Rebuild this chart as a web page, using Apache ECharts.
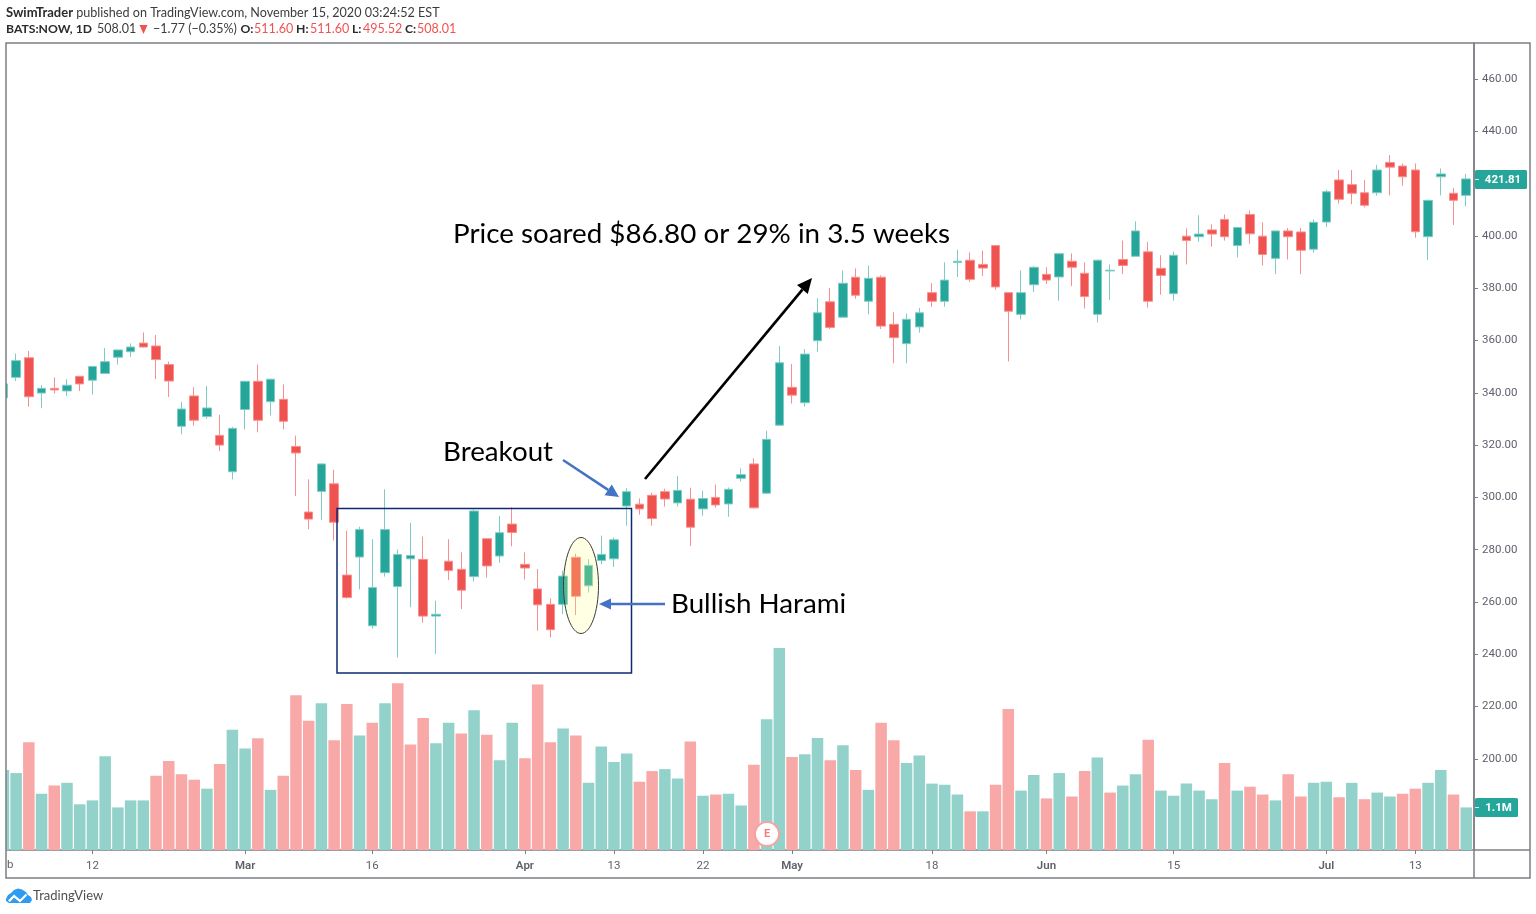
<!DOCTYPE html>
<html><head><meta charset="utf-8">
<style>html,body{margin:0;padding:0;background:#fff}#c{width:1536px;height:914px}</style>
<script src="https://cdn.jsdelivr.net/npm/echarts@6/dist/echarts.min.js"></script>
</head><body><div id="c"></div>
<script>
// [open, close, low, high]
const ohlc = [
[338.1,343.4,336,345],[345.9,352.3,344.5,355.0],[353.4,338.5,334.7,356.0],[339.9,341.7,334.1,342.9],[341.7,341.1,339.7,345.9],
[340.7,342.9,338.8,345.2],[346.3,343.4,340.7,346.3],[344.8,350.1,339.3,350.1],[347.4,351.9,347.4,357.1],[353.6,356.4,350.8,356.4],
[355.7,357.5,353.8,358.9],[359.0,357.5,357.3,363.1],[357.9,352.7,345.2,362.1],[350.8,344.5,338.4,351.9],[327.2,333.8,324.1,336.5],
[338.8,329.5,327.4,342.1],[330.9,334.2,330.1,342.6],[323.7,320.0,317.7,331.6],[309.8,326.4,306.9,327.0],[333.6,344.4,326.0,344.6],
[344.4,329.5,324.9,350.8],[336.6,345.2,331.3,345.4],[337.5,329.1,326.0,343.2],[319.5,317.0,300.5,323.6],[294.4,291.7,287.8,306.9],
[302.3,312.8,291.4,313.0],[305.2,290.5,283.5,310.6],[270.3,261.7,261.3,287.3],[277.2,287.7,264.8,288.8],[250.9,265.5,249.8,284.0],
[271.2,287.7,269.7,303.1],[265.9,278.2,238.8,280.1],[276.5,277.8,258.0,290.3],[276.3,254.6,252.1,285.0],[254.6,255.3,240.1,260.5],
[275.6,272.0,268.4,284.0],[272.5,264.5,257.3,279.0],[269.7,294.8,267.9,295.4],[284.2,273.8,269.3,284.2],[277.6,286.5,275.0,292.9],
[289.8,286.6,281.3,296.2],[274.4,273.0,268.6,279.0],[265.0,258.9,249.0,272.6],[259.1,249.4,246.4,261.4],[259.1,269.9,255.4,272.0],
[277.1,262.2,255.0,278.4],[266.2,274.0,263.6,276.4],[275.9,278.2,274.5,285.4],[276.5,283.8,273.4,284.6],[296.7,302.2,289.2,303.5],
[297.4,295.6,293.4,299.6],[300.8,291.9,289.2,301.8],[302.2,299.4,296.5,303.3],[297.9,302.7,296.5,308.2],[299.3,288.6,281.4,303.7],
[295.6,299.6,293.0,302.6],[300.0,297.1,296.1,304.9],[297.5,303.1,292.6,303.8],[307.3,308.7,306.1,311.1],[312.8,296.0,295.7,314.9],
[301.6,322.2,301.2,325.5],[327.6,351.5,327.3,357.9],[342.1,339.1,335.9,351.0],[336.2,354.8,334.7,356.7],[359.9,370.6,355.7,376.2],
[374.8,365.0,364.4,380.1],[368.9,381.9,368.7,386.8],[384.2,377.3,376.0,387.6],[375.0,383.8,370.0,388.7],[384.2,365.5,364.4,384.9],
[366.2,361.1,351.3,370.8],[358.8,368.1,351.3,370.3],[365.2,370.6,363.0,372.5],[378.3,375.0,372.9,381.9],[375.0,383.1,372.9,389.9],
[389.8,390.3,384.3,394.7],[390.7,383.4,382.4,393.7],[389.1,387.7,384.7,394.4],[396.3,380.5,379.4,396.3],[378.3,371.2,352.0,378.3],
[370.0,378.3,368.1,386.8],[381.3,388.0,378.5,388.5],[385.3,383.1,381.6,388.0],[384.3,393.2,375.2,393.2],[390.3,388.0,380.8,393.3],
[385.7,376.8,372.2,389.9],[370.0,390.7,366.9,391.0],[386.6,386.9,375.5,389.1],[391.0,388.7,385.4,398.2],[392.2,401.9,392.2,405.6],
[393.9,375.0,372.6,397.7],[387.6,384.9,377.5,392.6],[377.9,392.6,375.2,394.0],[399.9,398.2,389.1,402.9],[399.7,400.7,397.8,407.9],
[402.3,400.7,395.9,404.4],[406.3,399.7,398.2,408.2],[396.3,403.2,391.8,403.4],[408.2,400.8,397.0,409.8],[399.9,392.9,388.7,405.2],
[391.4,401.9,385.4,401.9],[401.9,399.7,391.0,403.0],[401.5,394.5,385.4,403.0],[394.9,405.2,393.6,406.3],[405.3,416.9,403.4,417.7],
[421.4,414.0,412.4,425.2],[419.6,416.3,412.1,425.2],[416.5,411.7,410.9,421.4],[416.5,425.2,415.4,427.1],[428.1,426.3,415.5,430.9],
[426.7,422.6,419.2,427.7],[425.2,401.6,399.3,427.7],[399.7,413.6,390.8,413.9],[422.6,423.7,415.5,425.8],[416.3,413.6,404.2,418.4],
[415.5,421.8,411.3,423.7]];
// volume in millions of shares
const volumes = [2.05,1.97,2.76,1.44,1.65,1.72,1.17,1.27,2.40,1.09,1.27,1.27,1.90,2.28,1.94,1.80,1.57,2.20,3.08,2.60,
2.86,1.54,1.90,3.96,3.31,3.76,2.81,3.74,2.93,3.26,3.76,4.27,2.70,3.38,2.73,3.26,2.98,3.58,2.95,2.30,
3.26,2.35,4.24,2.76,3.11,2.93,1.72,2.65,2.25,2.47,1.75,2.02,2.07,1.83,2.78,1.39,1.42,1.44,1.14,2.18,
3.35,5.17,2.38,2.45,2.87,2.30,2.68,2.05,1.54,3.26,2.81,2.23,2.42,1.70,1.67,1.42,0.99,0.99,1.67,3.61,
1.52,1.92,1.32,1.97,1.37,2.02,2.37,1.47,1.65,1.94,2.82,1.52,1.39,1.70,1.52,1.30,2.23,1.52,1.62,1.42,
1.27,1.94,1.37,1.72,1.75,1.35,1.72,1.30,1.47,1.37,1.44,1.57,1.72,2.05,1.42,1.09];
const volumeUp = 'GGRGRGGGGGGGRRRRGRGGRGRRRGRRGRGRRRGGRGRGGRRRGRGGGGRRGGRGRGGRGGRGGRGRGRRGGGGGRGRRGGRGRRGRGGRGGGGGRGRRGRRGGRGRGGRRGGRG';
const priceTicks = [180,200,220,240,260,280,300,320,340,360,380,400,420,440,460];
const timeTickIdx = [7,19,29,41,48,55,62,73,82,92,104,111];
const timeTickLabels = ['12','Mar','16','Apr','13','22','May','18','Jun','15','Jul','13'];
const monthLabels = ['Mar','Apr','May','Jun','Jul'];
const lastPrice = 421.81;
const lastVolumeLabel = '1.1M';
const headerLine1 = '{b|SwimTrader} published on TradingView.com, November 15, 2020 03:24:52 EST';
const headerPieces = [
  ['BATS:NOW, 1D',6,'b'],['508.01',97,'n'],['−1.77 (−0.35%)',153,'n'],
  ['O:',240.5,'b'],['511.60',254,'r'],['H:',296,'b'],['511.60',310,'r'],
  ['L:',352,'b'],['495.52',363,'r'],['C:',405,'b'],['508.01',417,'r']];

const UP='#26a69a', DOWN='#ef5350', UPW='#7fccc5', DOWNW='#f88f8e', VUP='#92d2ca', VDOWN='#f7a8a7';
const FRAME='#7c7f87', AXTXT='#5f626b', HFONT='Lato, "Noto Sans", sans-serif', ANNOT='Lato, "Open Sans", sans-serif';
const L=6,T=43,R=1474,B=850,FR=1530,FB=878;

function arrow(x1,y1,x2,y2,color,w,hl,hw){
  const a=Math.atan2(y2-y1,x2-x1),c=Math.cos(a),s=Math.sin(a);
  const bx=x2-c*hl,by=y2-s*hl;
  return [
    {type:'line',z:120,shape:{x1,y1,x2:bx,y2:by},style:{stroke:color,lineWidth:w}},
    {type:'polygon',z:120,shape:{points:[[x2,y2],[bx-s*hw,by+c*hw],[bx+s*hw,by-c*hw]]},style:{fill:color}}
  ];
}
function tag(y,h,w,label,font){
  return [
    {type:'rect',z:130,shape:{x:R+1,y:y-h/2,width:w,height:h,r:1.5},style:{fill:UP}},
    {type:'line',z:131,shape:{x1:R+1,y1:y,x2:R+5,y2:y},style:{stroke:'#d6efec',lineWidth:1}},
    {type:'text',z:131,style:{x:R+1+w/2+2,y:y+1,text:label,fill:'#fff',font,textAlign:'center',textVerticalAlign:'middle'}}
  ];
}
const headerStyles={
  b:{font:'bold 12.2px '+HFONT,fill:'#2b2b2b'},
  n:{font:'12.5px '+HFONT,fill:'#3c3c3c'},
  r:{font:'12.5px '+HFONT,fill:'#ef5350'}};
const chart=echarts.init(document.getElementById('c'),null,{renderer:'canvas'});
chart.setOption({
  animation:false,
  backgroundColor:'#fff',
  grid:{left:L,top:T,width:R-L,height:B-T,show:false},
  xAxis:{type:'value',min:0.204,max:115.61,
    axisLine:{show:true,onZero:false,lineStyle:{color:FRAME,width:1.5}},
    axisTick:{show:true,length:4,customValues:timeTickIdx,lineStyle:{color:FRAME}},
    axisLabel:{show:true,customValues:timeTickIdx,margin:10,color:AXTXT,fontSize:11.5,fontFamily:'Roboto, sans-serif',
      formatter:v=>{const s=timeTickLabels[timeTickIdx.indexOf(v)]||'';return monthLabels.includes(s)?'{m|'+s+'}':s;},
      rich:{m:{fontWeight:600,color:AXTXT,fontSize:11.5,fontFamily:'Roboto, sans-serif'}}},
    splitLine:{show:false}},
  yAxis:[
    {type:'value',position:'right',min:165.16,max:473.77,
     axisLine:{show:true,onZero:false,lineStyle:{color:FRAME,width:1.5}},
     axisTick:{show:true,length:4,customValues:priceTicks,lineStyle:{color:FRAME}},
     axisLabel:{show:true,customValues:priceTicks,margin:8,padding:[2,0,0,0],color:AXTXT,fontSize:11.5,fontFamily:'Roboto, sans-serif',formatter:v=>v.toFixed(2)},
     splitLine:{show:false}},
    {type:'value',show:false,min:0,max:20.66,splitLine:{show:false}}
  ],
  series:[
    {type:'bar',name:'Volume',xAxisIndex:0,yAxisIndex:1,barWidth:11.5,z:1,clip:true,
     data:volumes.map((v,i)=>[i,v]),
     itemStyle:{color:p=>volumeUp[p.dataIndex]==='G'?VUP:VDOWN}},
    {type:'candlestick',name:'BATS:NOW',xAxisIndex:0,yAxisIndex:0,barWidth:9,z:3,clip:true,
     data:ohlc.map((d,i)=>[i,d[0],d[1],d[2],d[3]]),
     itemStyle:{color:UP,color0:DOWN,borderColor:UPW,borderColor0:DOWNW,borderWidth:1}}
  ],
  graphic:{elements:[
    // the chart pane starts at the frame: nothing of the partial first session shows left of it
    {type:'rect',z:80,shape:{x:0,y:T,width:L,height:FB-T},style:{fill:'#fff'}},
    {type:'rect',z:90,shape:{x:L,y:T,width:FR-L,height:FB-T},style:{fill:'none',stroke:FRAME,lineWidth:1.5}},
    {type:'line',z:90,shape:{x1:R,y1:B,x2:FR,y2:B},style:{stroke:FRAME,lineWidth:1.5}},
    {type:'line',z:90,shape:{x1:R,y1:T,x2:R,y2:FB},style:{stroke:FRAME,lineWidth:1.5}},
    {type:'text',z:100,style:{x:6,y:12.5,text:headerLine1,fill:'#3c3c3c',font:'12.6px '+HFONT,textVerticalAlign:'middle',
      rich:{b:{font:'bold 13px '+HFONT,fill:'#2b2b2b'}}}},
    ...headerPieces.map(p=>({type:'text',z:100,style:Object.assign({x:p[1],y:29,text:p[0],textVerticalAlign:'middle'},headerStyles[p[2]])})),
    {type:'polygon',z:100,shape:{points:[[139.5,25],[147.5,25],[143.5,34]]},style:{fill:'#ef5350'}},
    {type:'text',z:100,style:{x:7,y:865,text:'b',fill:AXTXT,font:'11.5px Roboto, sans-serif',textVerticalAlign:'middle'}},
    // E marker
    {type:'circle',z:110,shape:{cx:767,cy:834,r:12},style:{fill:'#fff',stroke:'#f5a3a2',lineWidth:2}},
    {type:'text',z:111,style:{x:767,y:834,text:'E',fill:'#f47c7b',font:'bold 11px Roboto, sans-serif',textAlign:'center',textVerticalAlign:'middle'}},
    // annotations
    {type:'ellipse',z:115,shape:{cx:581,cy:585.5,rx:17.5,ry:48},style:{fill:'rgba(255,255,126,0.215)',stroke:'#3a3a3a',lineWidth:1}},
    {type:'rect',z:116,shape:{x:337,y:508.5,width:294.5,height:164.5},style:{fill:'none',stroke:'#0e2a6e',lineWidth:1.5}},
    ...arrow(563,460,619,497,'#4472c4',2.5,13,6.5),
    ...arrow(665,604,599,604,'#4472c4',2.5,12,5.5),
    ...arrow(645,479,812,278,'#000000',2.7,15,7),
    {type:'text',z:125,style:{x:453,y:234,text:'Price soared $86.80 or 29% in 3.5 weeks',fill:'#000',font:'27.75px '+ANNOT,textVerticalAlign:'middle'}},
    {type:'text',z:125,style:{x:443,y:452.5,text:'Breakout',fill:'#000',font:'27.75px '+ANNOT,textVerticalAlign:'middle'}},
    {type:'text',z:125,style:{x:671,y:604.5,text:'Bullish Harami',fill:'#000',font:'27.75px '+ANNOT,textVerticalAlign:'middle'}},
    // last value tags
    ...tag(179.5,19,52,lastPrice.toFixed(2),'bold 11.5px Roboto, sans-serif'),
    ...tag(807.5,19,43,lastVolumeLabel,'bold 11.5px Roboto, sans-serif'),
    // TradingView logo
    {type:'polygon',z:100,shape:{points:[[6,899],[8,895],[11,893],[14,890],[18,888.5],[22,889.5],[26,892],[28,895],[31,897],[32,900],[30,903],[9,903],[6,901]]},style:{fill:'#2d9bf0'}},
    {type:'polygon',z:101,shape:{points:[[8,900.5],[14,894.5],[20,899.5],[26,893.5],[27,895.5],[20,902.5],[14,897.5],[10,902]]},style:{fill:'#fff'}},
    {type:'text',z:100,style:{x:33,y:896,text:'TradingView',fill:'#4f4f4f',font:'13px '+HFONT,textVerticalAlign:'middle'}}
  ]}
});
</script></body></html>
